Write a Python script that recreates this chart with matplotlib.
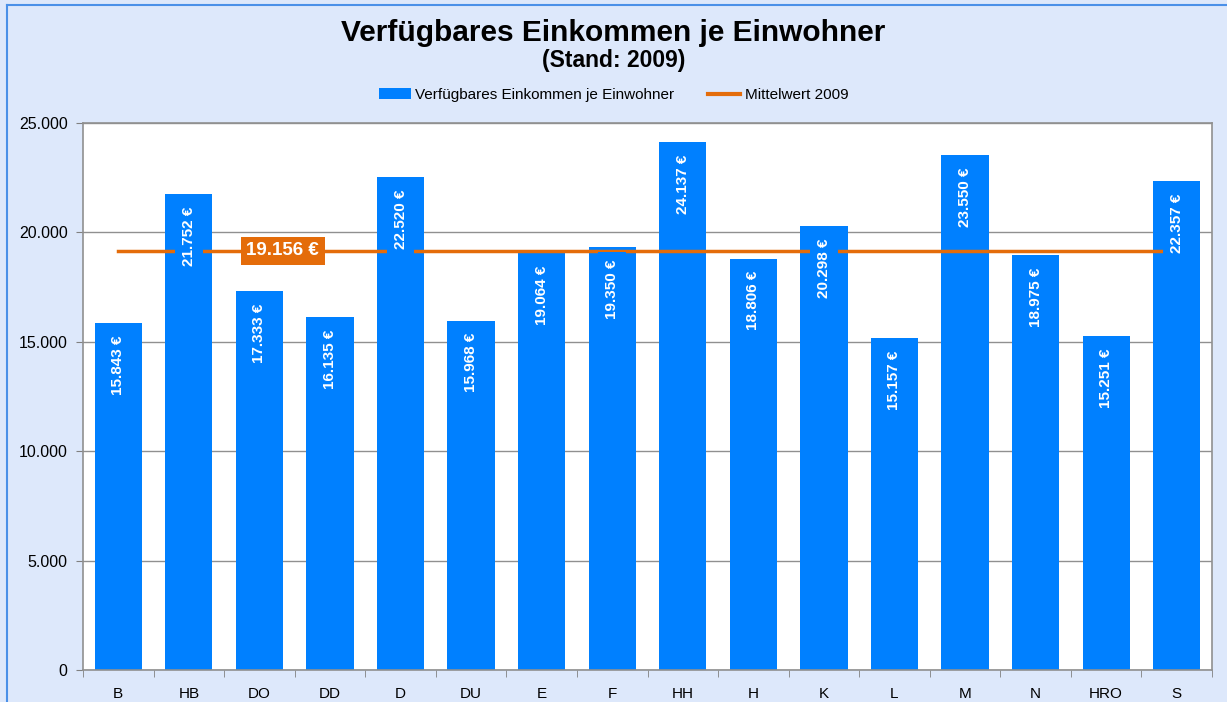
import matplotlib
matplotlib.use("Agg")
import matplotlib.pyplot as plt
from matplotlib.lines import Line2D
from matplotlib.patches import Patch
import numpy as np

categories = ["B", "HB", "DO", "DD", "D", "DU", "E", "F", "HH", "H", "K", "L", "M", "N", "HRO", "S"]
values = [15843, 21752, 17333, 16135, 22520, 15968, 19064, 19350, 24137, 18806, 20298, 15157, 23550, 18975, 15251, 22357]
mean_value = 19156
y_ticks = [0, 5000, 10000, 15000, 20000, 25000]
y_tick_labels = ["0", "5.000", "10.000", "15.000", "20.000", "25.000"]

BAR = "#0080FF"
ORANGE = "#E46C0A"
BG = "#DDE8FB"

plt.rcParams['font.family'] = ['Liberation Sans', 'DejaVu Sans']

fig = plt.figure(figsize=(12.27, 7.02), dpi=100, facecolor=BG)
ax = fig.add_axes([83/1227, 1-670/702, (1212-83)/1227, (670-123)/702])
ax.set_facecolor("white")

x = np.arange(len(categories))
ax.bar(x, values, width=0.67, color=BAR, zorder=2)
ax.plot([x[0], x[-1]], [mean_value, mean_value], color=ORANGE, lw=2.5, zorder=3)

def fmt(v):
    return f"{v:,}".replace(",", ".") + " €"

for xi, v in zip(x, values):
    ax.annotate(fmt(v), xy=(xi, v), xytext=(0, -9), textcoords="offset points",
                rotation=90, ha="center", va="top", color="white", fontsize=11,
                fontweight="bold", zorder=4,
                bbox=dict(boxstyle="square,pad=0.45", fc=BAR, ec="none"))

ax.text(2.33, mean_value, fmt(mean_value), ha="center", va="center", color="white",
        fontsize=13.5, fontweight="bold", zorder=5,
        bbox=dict(boxstyle="square,pad=0.3", fc=ORANGE, ec="none"))

ax.set_xlim(-0.5, len(categories) - 0.5)
ax.set_ylim(0, 25000)
ax.set_yticks(y_ticks)
ax.set_yticklabels(y_tick_labels, fontsize=11.5)
ax.set_xticks(x)
ax.set_xticklabels(categories, fontsize=11)
ax.set_xticks(np.arange(-0.5, len(categories), 1), minor=True)
ax.tick_params(axis="x", which="major", length=0, pad=12)
ax.tick_params(axis="x", which="minor", length=5, color="#808080")
ax.tick_params(axis="y", length=5, color="#808080", pad=6)
ax.grid(axis="y", color="#909090", lw=1, zorder=1)
for s in ax.spines.values():
    s.set_color("#909090")
    s.set_linewidth(1.2)

fig.text(0.5, 1-33/702, "Verfügbares Einkommen je Einwohner", ha="center", va="center",
         fontsize=21.5, fontweight="bold")
fig.text(0.5, 1-61/702, "(Stand: 2009)", ha="center", va="center", fontsize=16.5, fontweight="bold")

handles = [Patch(facecolor=BAR, edgecolor="none"), Line2D([0], [0], color=ORANGE, lw=3)]
fig.legend(handles, ["Verfügbares Einkommen je Einwohner", "Mittelwert 2009"],
           loc="center", bbox_to_anchor=(0.5, 1-95/702), ncol=2, frameon=False,
           fontsize=11, handlelength=2.1, handleheight=0.7, columnspacing=2.2, handletextpad=0.3)

fig.add_artist(Line2D([7/1227, 7/1227], [0, 1-5/702], color="#4A90E8", lw=1.5))
fig.add_artist(Line2D([7/1227, 1], [1-5/702, 1-5/702], color="#4A90E8", lw=1.5))

fig.savefig("out.png", dpi=100, facecolor=BG)
